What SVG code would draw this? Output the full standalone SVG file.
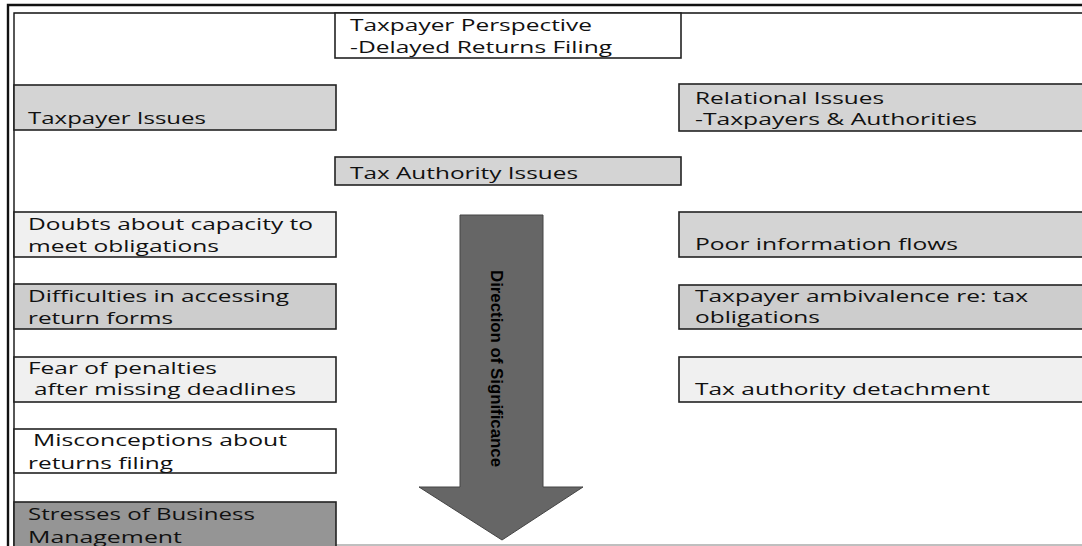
<svg xmlns="http://www.w3.org/2000/svg" width="1082" height="546" viewBox="0 0 1082 546">
<style>
.box{stroke:#222;stroke-width:1.6}
.t{font-family:"Open Sans","DejaVu Sans",sans-serif;font-size:16.5px;fill:#111}
.w{fill:#fff}.g{fill:#d4d4d4}.l{fill:#f0f0f0}.m{fill:#cdcdcd}.d{fill:#959595}
</style>
<rect width="1082" height="546" fill="#fff"/>
<g id="frame" fill="none" stroke="#111">
<path d="M8 546V5H1082" stroke-width="2.4"/>
<path d="M14 546V13H1082" stroke-width="1.4"/>
<path d="M336 545H1082" stroke="#aaa" stroke-width="1.5"/>
</g>
<g id="n-perspective"><rect class="box w" x="335" y="13" width="346" height="45"/><text class="t" x="350" y="31" textLength="242" lengthAdjust="spacingAndGlyphs">Taxpayer Perspective</text><text class="t" x="350" y="53" textLength="262" lengthAdjust="spacingAndGlyphs">-Delayed Returns Filing</text></g>
<g id="n-taxpayer"><rect class="box g" x="14" y="85" width="322" height="45"/><text class="t" x="28" y="124" textLength="178" lengthAdjust="spacingAndGlyphs">Taxpayer Issues</text></g>
<g id="n-relational"><rect class="box g" x="679" y="84" width="420" height="47"/><text class="t" x="695" y="104" textLength="189" lengthAdjust="spacingAndGlyphs">Relational Issues</text><text class="t" x="695" y="125" textLength="282" lengthAdjust="spacingAndGlyphs">-Taxpayers &amp; Authorities</text></g>
<g id="n-authority"><rect class="box g" x="335" y="157" width="346" height="28"/><text class="t" x="350" y="179" textLength="228" lengthAdjust="spacingAndGlyphs">Tax Authority Issues</text></g>
<g id="n-doubts"><rect class="box l" x="14" y="212" width="322" height="45"/><text class="t" x="28" y="230" textLength="285" lengthAdjust="spacingAndGlyphs">Doubts about capacity to</text><text class="t" x="28" y="252" textLength="191" lengthAdjust="spacingAndGlyphs">meet obligations</text></g>
<g id="n-difficulties"><rect class="box m" x="14" y="284" width="322" height="45"/><text class="t" x="28" y="302" textLength="261" lengthAdjust="spacingAndGlyphs">Difficulties in accessing</text><text class="t" x="28" y="324" textLength="145" lengthAdjust="spacingAndGlyphs">return forms</text></g>
<g id="n-fear"><rect class="box l" x="14" y="357" width="322" height="45"/><text class="t" x="28" y="374" textLength="189" lengthAdjust="spacingAndGlyphs">Fear of penalties</text><text class="t" x="34" y="395" textLength="262" lengthAdjust="spacingAndGlyphs">after missing deadlines</text></g>
<g id="n-misconceptions"><rect class="box w" x="14" y="429" width="322" height="44"/><text class="t" x="33" y="446" textLength="254" lengthAdjust="spacingAndGlyphs">Misconceptions about</text><text class="t" x="28" y="469" textLength="145" lengthAdjust="spacingAndGlyphs">returns filing</text></g>
<g id="n-stresses"><rect class="box d" x="14" y="502" width="322" height="50"/><text class="t" x="28" y="520" textLength="227" lengthAdjust="spacingAndGlyphs">Stresses of Business</text><text class="t" x="28" y="543" textLength="154" lengthAdjust="spacingAndGlyphs">Management</text></g>
<g id="n-poor"><rect class="box g" x="679" y="212" width="420" height="45"/><text class="t" x="695" y="250" textLength="263" lengthAdjust="spacingAndGlyphs">Poor information flows</text></g>
<g id="n-ambivalence"><rect class="box m" x="679" y="285" width="420" height="44"/><text class="t" x="695" y="302" textLength="333" lengthAdjust="spacingAndGlyphs">Taxpayer ambivalence re: tax</text><text class="t" x="695" y="323" textLength="125" lengthAdjust="spacingAndGlyphs">obligations</text></g>
<g id="n-detachment"><rect class="box l" x="679" y="357" width="420" height="45"/><text class="t" x="695" y="395" textLength="295" lengthAdjust="spacingAndGlyphs">Tax authority detachment</text></g>
<g id="connectors">
<path id="arrow" d="M460 215H543V487H583L502 540L419 487H460Z" fill="#666" stroke="#444" stroke-width="1"/>
<text transform="translate(491 270) rotate(90)" font-family="'Liberation Sans',sans-serif" font-weight="bold" font-size="16" fill="#000" textLength="197" lengthAdjust="spacingAndGlyphs">Direction of Significance</text>
</g>
</svg>
